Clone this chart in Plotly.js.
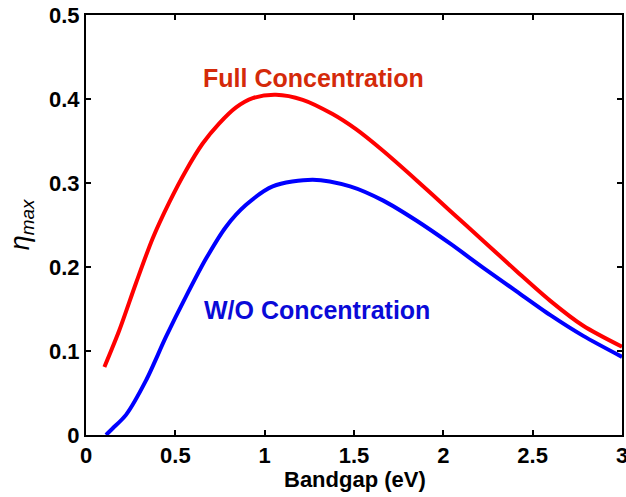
<!DOCTYPE html>
<html>
<head>
<meta charset="utf-8">
<script src="https://cdn.plot.ly/plotly-3.0.1.min.js"></script>
<style>html,body{margin:0;padding:0;background:#fff;}#chart{width:626px;height:497px;}</style>
</head>
<body>
<div id="chart"></div>
<script>
const fullX = [0.103, 0.187, 0.28, 0.373, 0.466, 0.56, 0.653, 0.746, 0.84, 0.933, 1.063, 1.213, 1.38, 1.511, 1.664, 1.851, 2.037, 2.224, 2.41, 2.597, 2.783, 3.0];
const fullY = [0.081, 0.125, 0.181, 0.234, 0.277, 0.315, 0.347, 0.371, 0.390, 0.401, 0.405, 0.399, 0.382, 0.364, 0.338, 0.303, 0.267, 0.231, 0.195, 0.160, 0.130, 0.105];
const woX = [0.112, 0.15, 0.224, 0.336, 0.448, 0.56, 0.672, 0.784, 0.896, 1.045, 1.269, 1.478, 1.664, 1.851, 2.037, 2.224, 2.41, 2.597, 2.783, 3.0];
const woY = [0.0, 0.008, 0.024, 0.065, 0.117, 0.165, 0.210, 0.248, 0.274, 0.296, 0.304, 0.296, 0.279, 0.255, 0.228, 0.199, 0.171, 0.143, 0.118, 0.093];
const xTicks = [0, 0.5, 1, 1.5, 2, 2.5, 3];
const xTickText = ['0', '0.5', '1', '1.5', '2', '2.5', '3'];
const yTicks = [0, 0.1, 0.2, 0.3, 0.4, 0.5];
const yTickText = ['0', '0.1', '0.2', '0.3', '0.4', '0.5'];
const labelFull = 'Full Concentration';
const labelWo = 'W/O Concentration';
const xTitle = 'Bandgap (eV)';

const traces = [
  {x: fullX, y: fullY, mode: 'lines', line: {color: '#ff0000', width: 4, shape: 'spline', smoothing: 0.8}, name: labelFull},
  {x: woX, y: woY, mode: 'lines', line: {color: '#0000ff', width: 4, shape: 'spline', smoothing: 0.8}, name: labelWo}
];
const FF = 'Arial, Liberation Sans, sans-serif';
const tickFont = {family: FF, size: 22, color: '#000', weight: 'bold'};
const layout = {
  width: 626, height: 497,
  margin: {l: 86, r: 4, t: 15, b: 62},
  showlegend: false,
  paper_bgcolor: '#fff', plot_bgcolor: '#fff',
  xaxis: {
    range: [0, 3], tickvals: xTicks, ticktext: xTickText,
    ticks: 'inside', ticklen: 5, tickwidth: 2, tickcolor: '#000',
    showline: true, linewidth: 2, linecolor: '#000', mirror: 'ticks',
    showgrid: false, zeroline: false, tickfont: tickFont, ticklabeloverflow: 'allow'
  },
  yaxis: {
    range: [0, 0.5], tickvals: yTicks, ticktext: yTickText,
    ticks: 'inside', ticklen: 5, tickwidth: 2, tickcolor: '#000',
    showline: true, linewidth: 2, linecolor: '#000', mirror: 'ticks',
    showgrid: false, zeroline: false, tickfont: tickFont, ticklabeloverflow: 'allow',
    title: {text: '<i>η</i><sub><i>max</i></sub>', font: {family: FF, size: 27, color: '#000'}, standoff: 12}
  },
  annotations: [
    {x: 1.276, y: 0.425, xref: 'x', yref: 'y', text: '<b>' + labelFull + '</b>', showarrow: false,
     font: {family: FF, size: 25, color: '#d42a0a'}},
    {x: 1.293, y: 0.149, xref: 'x', yref: 'y', text: '<b>' + labelWo + '</b>', showarrow: false,
     font: {family: FF, size: 25, color: '#0a0ad8'}},
    {x: 0.501, y: -0.107, xref: 'paper', yref: 'paper', text: '<b>' + xTitle + '</b>', showarrow: false,
     yanchor: 'middle', font: {family: FF, size: 22, color: '#000'}}
  ]
};
Plotly.newPlot('chart', traces, layout, {displayModeBar: false, staticPlot: true});
</script>
</body>
</html>
